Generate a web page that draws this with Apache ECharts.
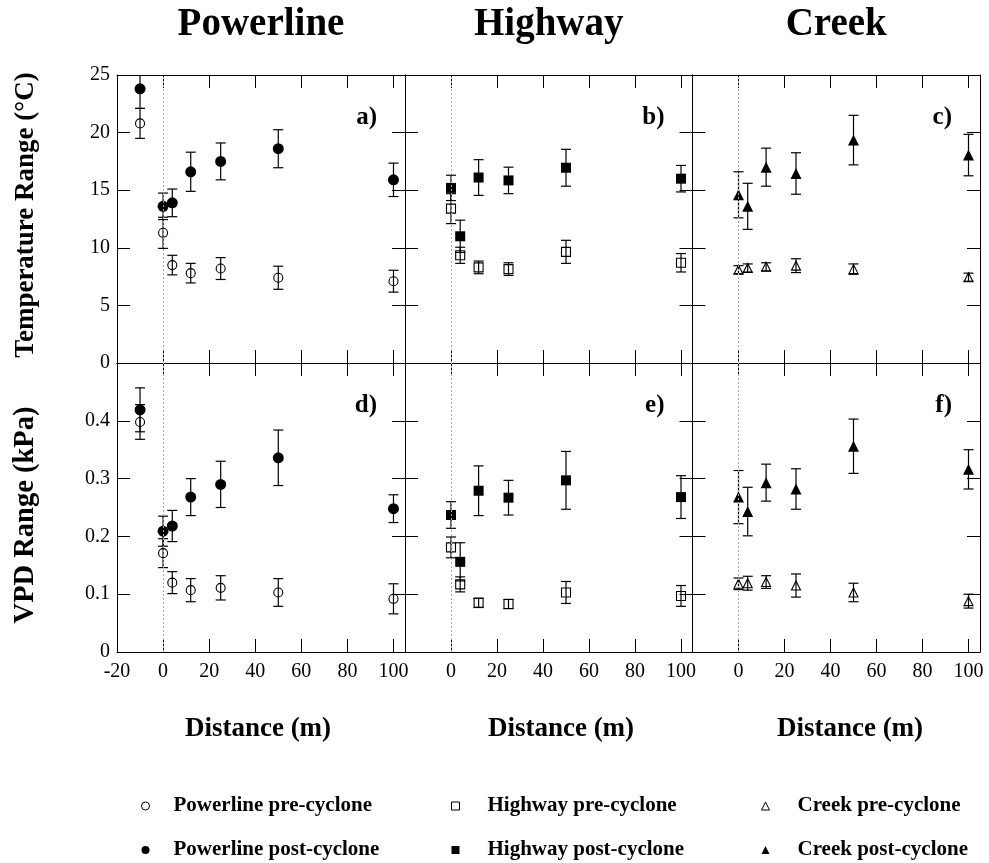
<!DOCTYPE html>
<html>
<head>
<meta charset="utf-8">
<script src="https://cdn.jsdelivr.net/npm/echarts@6/dist/echarts.min.js"></script>
<style>
  html, body { margin: 0; padding: 0; background: #fff; }
  #chart { width: 989px; height: 863px; }
</style>
</head>
<body>
<div id="chart"></div>
<script>
// Distances from the edge (m); -10 is the interior control at the powerline site
const distancePowerline = [-10, 0, 4, 12, 25, 50, 100];
const distanceSite = [0, 4, 12, 25, 50, 100];

// Daily temperature range (°C), mean and standard error
const powerlinePreTemp = [20.8, 11.3, 8.5, 7.8, 8.2, 7.4, 7.1];
const powerlinePreTempErr = [1.3, 1.35, 0.85, 0.85, 0.95, 1.0, 0.95];
const powerlinePostTemp = [23.8, 13.6, 13.9, 16.6, 17.5, 18.6, 15.9];
const powerlinePostTempErr = [1.7, 1.15, 1.2, 1.7, 1.6, 1.65, 1.45];
const highwayPreTemp = [13.4, 9.35, 8.3, 8.15, 9.65, 8.7];
const highwayPreTempErr = [1.3, 0.7, 0.55, 0.55, 1.0, 0.8];
const highwayPostTemp = [15.2, 11.0, 16.1, 15.85, 16.95, 16.0];
const highwayPostTempErr = [1.1, 1.4, 1.55, 1.15, 1.6, 1.15];
const creekPreTemp = [8.1, 8.25, 8.35, 8.45, 8.15, 7.45];
const creekPreTempErr = [0.35, 0.35, 0.35, 0.6, 0.45, 0.35];
const creekPostTemp = [14.6, 13.6, 17.0, 16.45, 19.35, 18.05];
const creekPostTempErr = [2.0, 2.0, 1.65, 1.8, 2.15, 1.8];

// Daily VPD range (kPa), mean and standard error
const powerlinePreVpd = [0.398, 0.171, 0.12, 0.107, 0.111, 0.103, 0.092];
const powerlinePreVpdErr = [0.03, 0.025, 0.019, 0.02, 0.021, 0.024, 0.026];
const powerlinePostVpd = [0.419, 0.209, 0.218, 0.268, 0.29, 0.336, 0.248];
const powerlinePostVpdErr = [0.038, 0.026, 0.027, 0.032, 0.04, 0.048, 0.024];
const highwayPreVpd = [0.181, 0.117, 0.085, 0.083, 0.103, 0.097];
const highwayPreVpdErr = [0.018, 0.013, 0.008, 0.008, 0.019, 0.018];
const highwayPostVpd = [0.237, 0.156, 0.279, 0.267, 0.297, 0.268];
const highwayPostVpdErr = [0.023, 0.033, 0.043, 0.03, 0.05, 0.037];
const creekPreVpd = [0.118, 0.119, 0.121, 0.115, 0.103, 0.088];
const creekPreVpdErr = [0.01, 0.012, 0.011, 0.02, 0.016, 0.012];
const creekPostVpd = [0.268, 0.243, 0.293, 0.282, 0.356, 0.316];
const creekPostVpdErr = [0.046, 0.042, 0.032, 0.035, 0.047, 0.034];

// Axis ticks
const xTicks = [-20, 0, 20, 40, 60, 80, 100];
const tempTicks = [0, 5, 10, 15, 20, 25];
const vpdTicks = [0, 0.1, 0.2, 0.3, 0.4, 0.5];

const siteNames = ['Powerline', 'Highway', 'Creek'];
const panelLetters = ['a)', 'b)', 'c)', 'd)', 'e)', 'f)'];

const FONT = '"Liberation Serif", "Times New Roman", Times, serif';

const sites = [
  { name: 'Powerline', symbol: 'circle', dist: distancePowerline,
    temp: [powerlinePreTemp, powerlinePreTempErr, powerlinePostTemp, powerlinePostTempErr],
    vpd: [powerlinePreVpd, powerlinePreVpdErr, powerlinePostVpd, powerlinePostVpdErr],
    sizes: [9, 11] },
  { name: 'Highway', symbol: 'rect', dist: distanceSite,
    temp: [highwayPreTemp, highwayPreTempErr, highwayPostTemp, highwayPostTempErr],
    vpd: [highwayPreVpd, highwayPreVpdErr, highwayPostVpd, highwayPostVpdErr],
    sizes: [9, 10] },
  { name: 'Creek', symbol: 'triangle', dist: distanceSite,
    temp: [creekPreTemp, creekPreTempErr, creekPostTemp, creekPostTempErr],
    vpd: [creekPreVpd, creekPreVpdErr, creekPostVpd, creekPostVpdErr],
    sizes: [9, 11] }
];

// panel geometry
const colLeft = [117, 405, 692.5];
const colWidth = [288, 287.5, 287.5];
const rowTop = [75, 363];
const rowHeight = [288, 289];

const grids = [], xAxes = [], yAxes = [], series = [];

const tickStyle = { show: true, inside: true, length: 13, lineStyle: { color: '#000', width: 1 } };
const lineStyle = { show: true, onZero: false, lineStyle: { color: '#000', width: 1 } };
const labelStyle = { fontFamily: FONT, fontSize: 20, color: '#000' };

function errorBarItem(params, api) {
  const x = api.value(0), m = api.value(1), e = api.value(2);
  const cs = params.coordSys;
  const px = api.coord([x, m])[0];
  const hi = api.coord([x, m + e])[1];
  const lo = api.coord([x, m - e])[1];
  const top = cs.y, bot = cs.y + cs.height;
  const style = { stroke: '#000', lineWidth: 1.2, fill: null };
  const half = 5;
  const children = [{
    type: 'line',
    shape: { x1: px, y1: Math.max(hi, top), x2: px, y2: Math.min(lo, bot) },
    style: style
  }];
  if (hi >= top) children.push({ type: 'line', shape: { x1: px - half, y1: hi, x2: px + half, y2: hi }, style: style });
  if (lo <= bot) children.push({ type: 'line', shape: { x1: px - half, y1: lo, x2: px + half, y2: lo }, style: style });
  return { type: 'group', children: children };
}

for (let row = 0; row < 2; row++) {
  for (let col = 0; col < 3; col++) {
    const p = row * 3 + col;
    grids.push({
      left: colLeft[col], top: rowTop[row], width: colWidth[col], height: rowHeight[row],
      outerBoundsMode: 'none'
    });
    const bottomRow = row === 1;
    // bottom x axis (with labels on lower row)
    xAxes.push({
      type: 'value', gridIndex: p, position: 'bottom',
      min: xTicks[0], max: 105, interval: 20,
      axisLine: lineStyle, axisTick: tickStyle, splitLine: { show: false },
      axisLabel: {
        show: bottomRow, margin: 10, ...labelStyle,
        formatter: function (v) {
          if (v % 20 !== 0 || v > 100) return '';
          if (col > 0 && v < 0) return '';
          return String(v);
        }
      }
    });
    // mirrored top x axis
    xAxes.push({
      type: 'value', gridIndex: p, position: 'top',
      min: xTicks[0], max: 105, interval: 20,
      axisLine: lineStyle, axisTick: tickStyle, splitLine: { show: false },
      axisLabel: { show: false }
    });
    const ticks = row === 0 ? tempTicks : vpdTicks;
    const yMax = ticks[ticks.length - 1];
    const yInt = ticks[1] - ticks[0];
    yAxes.push({
      type: 'value', gridIndex: p, position: 'left',
      min: 0, max: yMax, interval: yInt,
      axisLine: lineStyle, axisTick: tickStyle, splitLine: { show: false },
      axisLabel: {
        show: col === 0, margin: 7, ...labelStyle,
        formatter: function (v) {
          if (row === 1 && v >= 0.5 - 1e-9) return '';
          return row === 1 ? String(Math.round(v * 10) / 10) : String(v);
        }
      }
    });
    yAxes.push({
      type: 'value', gridIndex: p, position: 'right',
      min: 0, max: yMax, interval: yInt,
      axisLine: lineStyle, axisTick: tickStyle, splitLine: { show: false },
      axisLabel: { show: false }
    });

    const site = sites[col];
    const vals = row === 0 ? site.temp : site.vpd;
    const xi = 2 * p, yi = 2 * p;
    const pre = site.dist.map((d, i) => [d, vals[0][i], vals[1][i]]);
    const post = site.dist.map((d, i) => [d, vals[2][i], vals[3][i]]);

    // error bars
    [pre, post].forEach(function (data) {
      series.push({
        type: 'custom', xAxisIndex: xi, yAxisIndex: yi, silent: true, z: 2,
        renderItem: errorBarItem, encode: { x: 0, y: 1 }, data: data
      });
    });
    // pre-cyclone: open markers, with the reference line at the edge
    series.push({
      type: 'scatter', name: site.name + ' pre-cyclone',
      xAxisIndex: xi, yAxisIndex: yi, z: 3,
      symbol: site.symbol, symbolSize: site.sizes[0],
      itemStyle: { color: 'rgba(0,0,0,0)', borderColor: '#000', borderWidth: 1.1, opacity: 1 },
      data: pre.map(d => [d[0], d[1]]),
      markLine: {
        silent: true, symbol: 'none', animation: false,
        label: { show: false },
        lineStyle: { color: '#a8a8a8', width: 1, type: [2, 2] },
        data: [{ xAxis: 0 }]
      }
    });
    // post-cyclone: filled markers
    series.push({
      type: 'scatter', name: site.name + ' post-cyclone',
      xAxisIndex: xi, yAxisIndex: yi, z: 4,
      symbol: site.symbol, symbolSize: site.sizes[1],
      itemStyle: { color: '#000', borderColor: '#000', borderWidth: 0, opacity: 1 },
      data: post.map(d => [d[0], d[1]])
    });
  }
}

// Text elements: site titles, axis titles, panel letters
const graphics = [];
const colCenter = colLeft.map((l, i) => l + colWidth[i] / 2);
const distanceLabelX = [258, 561, 850];
siteNames.forEach(function (name, i) {
  graphics.push({
    type: 'text', x: colCenter[i], y: 25,
    style: { text: name, font: 'bold 39px ' + FONT, fill: '#000', align: 'center', verticalAlign: 'middle' }
  });
  graphics.push({
    type: 'text', x: distanceLabelX[i], y: 729,
    style: { text: 'Distance (m)', font: 'bold 27px ' + FONT, fill: '#000', align: 'center', verticalAlign: 'middle' }
  });
});
graphics.push({
  type: 'text', x: 26, y: 215, rotation: Math.PI / 2,
  style: { text: 'Temperature Range (°C)', font: 'bold 27px ' + FONT, fill: '#000', align: 'center', verticalAlign: 'middle' }
});
graphics.push({
  type: 'text', x: 26, y: 515, rotation: Math.PI / 2,
  style: { text: 'VPD Range (kPa)', font: 'bold 28.5px ' + FONT, fill: '#000', align: 'center', verticalAlign: 'middle' }
});
panelLetters.forEach(function (t, p) {
  const row = Math.floor(p / 3), col = p % 3;
  graphics.push({
    type: 'text', x: colLeft[col] + colWidth[col] - 28, y: rowTop[row] + 43,
    style: { text: t, font: 'bold 25px ' + FONT, fill: '#000', align: 'right', verticalAlign: 'middle' }
  });
});

// Legends, one column per site
const legendLeft = [136, 446, 756];
const legendTextPad = [19, 23, 23];
const legends = sites.map(function (site, i) {
  return {
    orient: 'vertical', left: legendLeft[i], top: 790, height: 68,
    itemWidth: 8, itemHeight: 8, itemGap: 22,
    selectedMode: false,
    textStyle: { fontFamily: FONT, fontWeight: 'bold', fontSize: 21, lineHeight: 22, color: '#000', padding: [0, 0, 0, legendTextPad[i]] },
    data: [
      { name: site.name + ' pre-cyclone', icon: site.symbol,
        itemStyle: { color: 'rgba(0,0,0,0)', borderColor: '#000', borderWidth: 1 } },
      { name: site.name + ' post-cyclone', icon: site.symbol,
        itemStyle: { color: '#000', borderColor: '#000', borderWidth: 0 } }
    ]
  };
});

const chart = echarts.init(document.getElementById('chart'), null, { renderer: 'canvas' });
chart.setOption({
  animation: false,
  backgroundColor: '#fff',
  grid: grids,
  xAxis: xAxes,
  yAxis: yAxes,
  legend: legends,
  graphic: graphics,
  series: series
});
</script>
</body>
</html>
